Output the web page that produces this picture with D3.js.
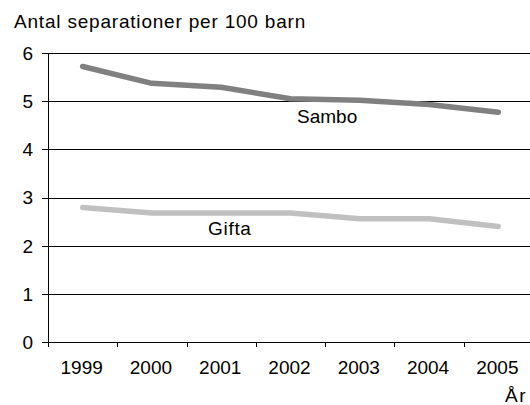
<!DOCTYPE html>
<html><head><meta charset="utf-8">
<script src="https://cdn.jsdelivr.net/npm/d3@7"></script>
<style>
body{margin:0;background:#fff;}
text{font-family:"Liberation Sans",Arial,sans-serif;fill:#000;}
</style></head>
<body><svg id="c" width="530" height="405"></svg>
<script>
const years = ["1999","2000","2001","2002","2003","2004","2005"];
const sambo = [5.72, 5.37, 5.29, 5.05, 5.02, 4.93, 4.77];
const gifta = [2.79, 2.68, 2.68, 2.68, 2.56, 2.56, 2.40];
const yTicks = [0,1,2,3,4,5,6];
const title = "Antal separationer per 100 barn";
const xTitle = "År";

(function(){
const svg = d3.select("#c");
const mLeft = 48, mRight = 533, mTop = 53, mBottom = 342;
const x = d3.scaleBand().domain(years).range([mLeft, mRight]);
const y = d3.scaleLinear().domain([0,6]).range([mBottom, mTop]);

// gridlines + y ticks
svg.append("g").selectAll("line").data(yTicks).join("line")
  .attr("x1", mLeft - 6).attr("x2", 530)
  .attr("y1", d => Math.round(y(d))+0.5).attr("y2", d => Math.round(y(d))+0.5)
  .attr("stroke", "#000").attr("stroke-width", 1);
svg.append("g").selectAll("text").data(yTicks).join("text")
  .attr("x", 33).attr("y", d => y(d)).attr("dy","0.36em")
  .attr("text-anchor","end").style("font-size","19px").text(d => d3.format("d")(d));

svg.append("line").attr("x1", mLeft+0.5).attr("x2", mLeft+0.5).attr("y1", Math.round(y(6))+0.5).attr("y2", mBottom+0.5).attr("stroke","#000");

// x axis ticks at band boundaries
const bounds = years.map(d => x(d));
svg.append("g").selectAll("line").data(bounds).join("line")
  .attr("x1", d => Math.round(d)+0.5).attr("x2", d => Math.round(d)+0.5)
  .attr("y1", mBottom).attr("y2", mBottom+5).attr("stroke","#000");
svg.append("g").selectAll("text").data(years).join("text")
  .attr("x", d => x(d)+x.bandwidth()/2 - 1).attr("y", 374)
  .attr("text-anchor","middle").style("font-size","19px").text(d => d);

// lines
const line = d3.line().x((d,i) => x(years[i])+x.bandwidth()/2).y(d => y(d));
svg.append("path").datum(gifta).attr("d", line).attr("fill","none")
  .attr("stroke","#c0c0c0").attr("stroke-width",5.5).attr("stroke-linecap","round").attr("stroke-linejoin","round");
svg.append("path").datum(sambo).attr("d", line).attr("fill","none")
  .attr("stroke","#808080").attr("stroke-width",5.5).attr("stroke-linecap","round").attr("stroke-linejoin","round");

// labels
svg.append("text").attr("x", 297).attr("y", 123).style("font-size","19px").text("Sambo");
svg.append("text").attr("x", 208).attr("y", 234.5).style("font-size","19px").style("letter-spacing","0.7px").text("Gifta");
svg.append("text").attr("x", 14).attr("y", 28).style("font-size","19px").style("letter-spacing","0.8px").text(title);
svg.append("text").attr("x", 527).attr("y", 402).attr("text-anchor","end").style("font-size","19px").style("letter-spacing","1.5px").text(xTitle);
})();
</script></body></html>
